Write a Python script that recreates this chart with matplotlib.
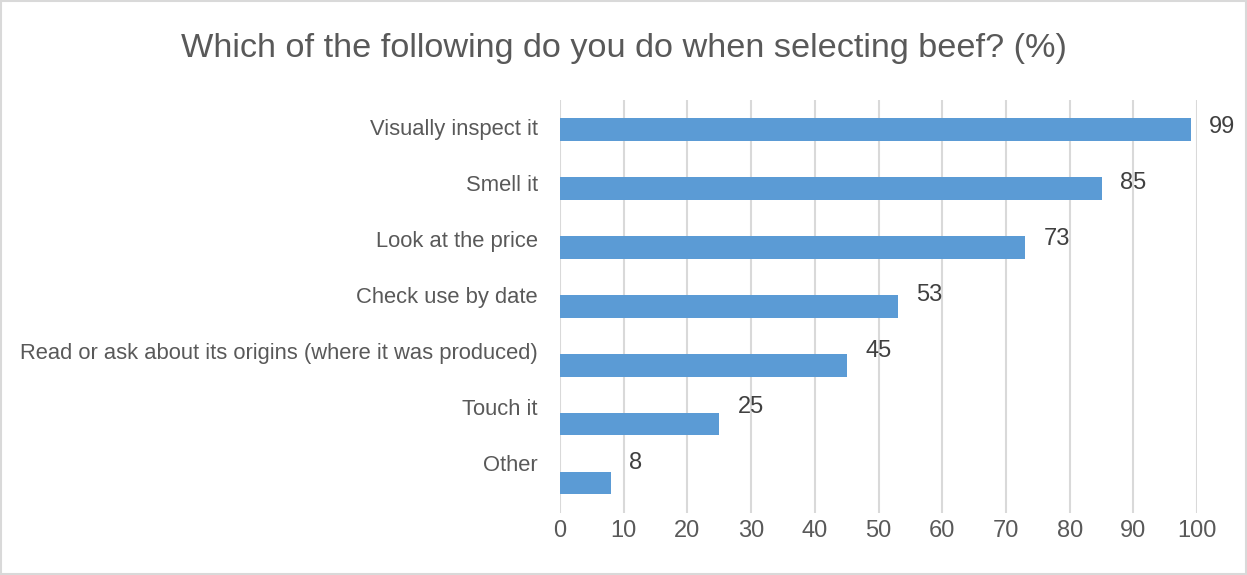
import matplotlib
matplotlib.use("Agg")
import matplotlib.pyplot as plt
import numpy as np

categories = ["Visually inspect it", "Smell it", "Look at the price", "Check use by date",
              "Read or ask about its origins (where it was produced)", "Touch it", "Other"]
values = [99, 85, 73, 53, 45, 25, 8]
xticks = [0, 10, 20, 30, 40, 50, 60, 70, 80, 90, 100]
title = "Which of the following do you do when selecting beef? (%)"

plt.rcParams['font.family'] = ["Liberation Sans", 'DejaVu Sans']

fig = plt.figure(figsize=(12.47, 5.75), dpi=100)
ax = fig.add_axes([0.449, 0.108, 0.511, 0.718])

pos = np.arange(len(categories))
ax.barh(pos, values, height=0.375, color="#5B9BD5", zorder=3)

# labels sit slightly above bars (drifting upward toward bottom)
label_pos = pos - 0.05 - 0.048 * pos
ax.set_yticks(label_pos)
ax.set_yticklabels(categories, fontsize=15.8, color="#595959")
ax.tick_params(axis='y', length=0, pad=16)

for p, v in zip(label_pos, values):
    ax.text(v + 2.9, p, str(v), va="center", ha="left", fontsize=17, color="#404040")

ax.set_xlim(0, 100)
ax.set_ylim(6.5, -0.5)
ax.set_xticks(xticks)
ax.set_xticklabels([str(t) for t in xticks], fontsize=17, color="#595959")
ax.tick_params(axis='x', length=0, pad=5)
ax.grid(axis='x', color="#D9D9D9", linewidth=1.5, zorder=0)
for s in ax.spines.values():
    s.set_visible(False)

fig.text(0.5, 0.916, title, ha="center", va="center", fontsize=24.7, color="#595959")

border = plt.Rectangle((0.001, 0.001), 0.998, 0.998, transform=fig.transFigure,
                       fill=False, edgecolor="#D9D9D9", linewidth=1.5)
fig.patches.append(border)

fig.savefig("out.png", dpi=100)
